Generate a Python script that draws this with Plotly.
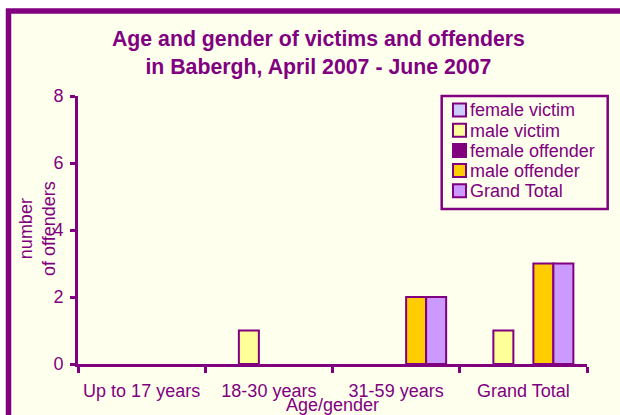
import plotly.graph_objects as go

categories = ["Up to 17 years", "18-30 years", "31-59 years", "Grand Total"]
female_victim = [None, None, None, None]
male_victim = [None, 1, None, 1]
female_offender = [None, None, None, None]
male_offender = [None, None, 2, 3]
grand_total = [None, None, 2, 3]

series_names = ["female victim", "male victim", "female offender", "male offender", "Grand Total"]
series_values = [female_victim, male_victim, female_offender, male_offender, grand_total]
series_colors = ["#CCCCFF", "#FFFF99", "#800080", "#FFCC00", "#CC99FF"]

PURPLE = "#800080"
BG = "#FFFFEE"
FONT = "Arial, Liberation Sans, sans-serif"

W, H = 620, 415
L, R, T, B = 78, 33, 96, 51
pw, ph = W - L - R, H - T - B


def px(x):
    return (x - L) / pw


def py(y):
    return (H - B - y) / ph


fig = go.Figure()
for name, vals, col in zip(series_names, series_values, series_colors):
    fig.add_trace(go.Bar(
        name=name, x=categories, y=vals, showlegend=False,
        marker=dict(color=col, line=dict(color=PURPLE, width=2)),
    ))

# outer chart frame
fig.add_shape(type="rect", xref="paper", yref="paper",
              x0=px(8.5), x1=px(700), y0=py(520), y1=py(11),
              fillcolor=BG, line=dict(color=PURPLE, width=5.5), layer="below")

# legend box (drawn to match the original legend layout)
lg_x0, lg_x1, lg_y0, lg_y1 = 441.7, 607.7, 96, 209
fig.add_shape(type="rect", xref="paper", yref="paper",
              x0=px(lg_x0), x1=px(lg_x1), y0=py(lg_y1), y1=py(lg_y0),
              fillcolor=BG, line=dict(color=PURPLE, width=2.5))
row0, row_h, sw = 110, 20.2, 13
for i, (name, col) in enumerate(zip(series_names, series_colors)):
    cy = row0 + i * row_h
    fig.add_shape(type="rect", xref="paper", yref="paper",
                  x0=px(453), x1=px(453 + sw), y0=py(cy + sw / 2), y1=py(cy - sw / 2),
                  fillcolor=col, line=dict(color=PURPLE, width=2))
    fig.add_annotation(xref="paper", yref="paper", x=px(468), y=py(cy + 0.5),
                       xanchor="left", yanchor="middle", showarrow=False,
                       text=name, font=dict(size=18, color=PURPLE, family=FONT))

# axis titles
fig.add_annotation(xref="paper", yref="paper", x=px(37), y=py(229),
                   xanchor="center", yanchor="middle", textangle=-90, showarrow=False,
                   text="number<br>of offenders", font=dict(size=18, color=PURPLE, family=FONT))
fig.add_annotation(xref="paper", yref="paper", x=px(332.5), y=py(405),
                   xanchor="center", yanchor="middle", showarrow=False,
                   text="Age/gender", font=dict(size=18, color=PURPLE, family=FONT))

fig.update_layout(
    width=W, height=H,
    margin=dict(l=L, r=R, t=T, b=B, autoexpand=False),
    paper_bgcolor="white",
    plot_bgcolor=BG,
    font=dict(family=FONT, color=PURPLE, size=18),
    barmode="group",
    bargap=0.214,
    bargroupgap=0,
    showlegend=False,
    title=dict(
        text="<b>Age and gender of victims and offenders<br>in Babergh, April 2007 - June 2007</b>",
        x=318.4 / W, xanchor="center", xref="container",
        y=1 - 46 / H, yanchor="middle", yref="container",
        font=dict(size=21.3, color=PURPLE, family=FONT),
    ),
)

fig.update_xaxes(
    automargin=False, tickangle=0,
    showline=True, linecolor=PURPLE, linewidth=3,
    ticks="outside", tickson="boundaries", ticklen=6, tickcolor=PURPLE, tickwidth=2.5,
    tickfont=dict(size=18, color=PURPLE), ticklabelstandoff=8,
    showgrid=False, zeroline=False,
)
fig.update_yaxes(
    automargin=False,
    range=[0, 8], dtick=2,
    showline=True, linecolor=PURPLE, linewidth=3,
    ticks="outside", ticklen=5, tickcolor=PURPLE, tickwidth=2.5,
    tickfont=dict(size=18, color=PURPLE), ticklabelstandoff=3,
    showgrid=False, zeroline=False,
)

fig.write_html("out.html", config={"displayModeBar": False},
               post_script="document.body.style.margin='0';")
